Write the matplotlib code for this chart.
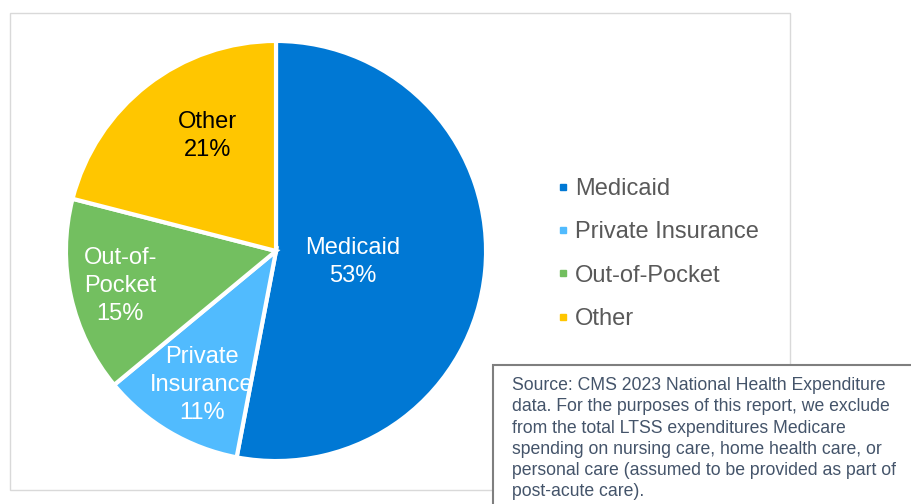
import matplotlib.pyplot as plt
import numpy as np
from matplotlib.lines import Line2D
from matplotlib.patches import Rectangle

plt.rcParams['font.family'] = ['Liberation Sans', 'DejaVu Sans']

# data
categories = ["Medicaid", "Private Insurance", "Out-of-Pocket", "Other"]
slice_labels = ["Medicaid", "Private\nInsurance", "Out-of-\nPocket", "Other"]
shares = [53, 11, 15, 21]
colors = ["#0078D4", "#51BBFE", "#73BF60", "#FFC600"]
label_colors = ["white", "white", "white", "black"]
# label placement inside each slice: radial distance, angle shift (deg)
label_dist = [0.37, 0.73, 0.76, 0.64]
label_shift = [-2.8, 1.8, 0.0, -7.0]

source_note = ("Source: CMS 2023 National Health Expenditure\n"
               "data. For the purposes of this report, we exclude\n"
               "from the total LTSS expenditures Medicare\n"
               "spending on nursing care, home health care, or\n"
               "personal care (assumed to be provided as part of\n"
               "post-acute care).")

W, H = 911, 504
fig = plt.figure(figsize=(W / 100, H / 100), dpi=100)


def fx(px):
    return px / W


def fy(py):
    return 1 - py / H


# outer chart frame
fig.patches.append(Rectangle((fx(10), fy(490)), fx(780), 477 / H, transform=fig.transFigure,
                             facecolor="none", edgecolor="#D9D9D9", linewidth=1, zorder=0))

ax = fig.add_axes([fx(67), fy(460), fx(418), 418 / H])
wedges, _ = ax.pie(shares, colors=colors, startangle=90, counterclock=False,
                   wedgeprops=dict(edgecolor="white", linewidth=3))
ax.set_aspect("equal")
ax.set_xlim(-0.995, 0.995)
ax.set_ylim(-0.995, 0.995)

for w, txt, val, col, d, s in zip(wedges, slice_labels, shares, label_colors, label_dist, label_shift):
    ang = np.deg2rad((w.theta1 + w.theta2) / 2 + s)
    ax.text(d * np.cos(ang), d * np.sin(ang), f"{txt}\n{val}%", ha="center", va="center",
            color=col, fontsize=17, linespacing=1.35)

handles = [Line2D([], [], marker="s", linestyle="none", markersize=5, color=c) for c in colors]
fig.legend(handles, categories, loc="center left", bbox_to_anchor=(fx(556), fy(254)),
           frameon=False, fontsize=17, labelcolor="#595959", handlelength=0.6,
           handletextpad=0.2, labelspacing=0.9, borderpad=0, borderaxespad=0)

# source box
fig.patches.append(Rectangle((fx(493), fy(520)), fx(430), 155 / H, transform=fig.transFigure,
                             facecolor="white", edgecolor="#7F7F7F", linewidth=1.5, zorder=5))
fig.text(fx(512), fy(377), source_note, ha="left", va="top", fontsize=12.7,
         color="#44546A", linespacing=1.33, zorder=6)

fig.savefig("out.png", dpi=100)
